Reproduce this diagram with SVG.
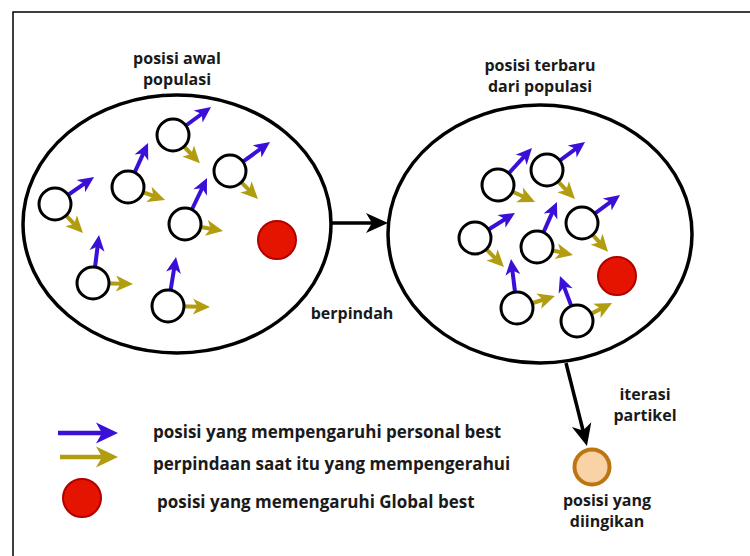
<svg xmlns="http://www.w3.org/2000/svg" width="750" height="556" viewBox="0 0 750 556">
<style>
.t{font-family:"Open Sans","DejaVu Sans",sans-serif;font-weight:700;font-size:16px;fill:#1a1a1a}
.lg{font-size:17px}
.pc{fill:#fff;stroke:#000;stroke-width:3}
.red{fill:#E51400;stroke:#B20000;stroke-width:2}
.ab{stroke:#3A0FD8;stroke-width:4;fill:none;marker-end:url(#mB)}
.ag{stroke:#B29C10;stroke-width:4;fill:none;marker-end:url(#mG)}
.ell{fill:#fff;stroke:#000;stroke-width:3.5}
.conn{stroke:#000;stroke-width:3.5;fill:none;marker-end:url(#mK)}
</style>
<defs>
<marker id="mB" markerUnits="userSpaceOnUse" markerWidth="16" markerHeight="15" refX="6" refY="7.5" orient="auto" overflow="visible"><path d="M0,0 L16,7.5 L0,15 L4.5,7.5 Z" fill="#3A0FD8"/></marker>
<marker id="mG" markerUnits="userSpaceOnUse" markerWidth="17" markerHeight="16" refX="7" refY="8" orient="auto" overflow="visible"><path d="M0,0 L17,8 L0,16 L4.5,8 Z" fill="#B29C10"/></marker>
<marker id="mBL" markerUnits="userSpaceOnUse" markerWidth="22" markerHeight="21" refX="12" refY="10.5" orient="auto" overflow="visible"><path d="M0,0 L22,10.5 L0,21 L6,10.5 Z" fill="#3A0FD8"/></marker>
<marker id="mGL" markerUnits="userSpaceOnUse" markerWidth="22" markerHeight="21" refX="12" refY="10.5" orient="auto" overflow="visible"><path d="M0,0 L22,10.5 L0,21 L6,10.5 Z" fill="#B29C10"/></marker>
<marker id="mK" markerUnits="userSpaceOnUse" markerWidth="22" markerHeight="20" refX="12" refY="10" orient="auto" overflow="visible"><path d="M0,0 L22,10 L0,20 L6,10 Z" fill="#000"/></marker>
</defs>
<rect width="750" height="556" fill="#fff"/>
<path d="M13,556 L13,12 L750,12" fill="none" stroke="#000" stroke-width="1.5"/>

<g id="labels">
<text class="t" x="177" y="64" text-anchor="middle">posisi awal</text>
<text class="t" x="177" y="85" text-anchor="middle">populasi</text>
<text class="t" x="540" y="71" text-anchor="middle">posisi terbaru</text>
<text class="t" x="540" y="92" text-anchor="middle">dari populasi</text>
</g>

<g id="population-initial">
<ellipse class="ell" cx="177" cy="224" rx="154" ry="129"/>
<g id="p1"><path class="ab" d="M173,135 L203,113"/><path class="ag" d="M173,135 L193,156"/><circle class="pc" cx="173" cy="135" r="16"/></g>
<g id="p2"><path class="ab" d="M128,187 L143.9,152.1"/><path class="ag" d="M128,187 L155.6,196.7"/><circle class="pc" cx="128" cy="187" r="16"/></g>
<g id="p3"><path class="ab" d="M230,171 L261.9,147.9"/><path class="ag" d="M230,171 L250.9,191.9"/><circle class="pc" cx="230" cy="171" r="16"/></g>
<g id="p4"><path class="ab" d="M55,204 L85.8,182.7"/><path class="ag" d="M55,204 L76,225.8"/><circle class="pc" cx="55" cy="204" r="16"/></g>
<g id="p5"><path class="ab" d="M185,224 L202.7,187"/><path class="ag" d="M185,224 L213.2,229.2"/><circle class="pc" cx="185" cy="224" r="16"/></g>
<g id="p6"><path class="ab" d="M93,283 L97.8,244.9"/><path class="ag" d="M93,283 L123,283.8"/><circle class="pc" cx="93" cy="283" r="16"/></g>
<g id="p7"><path class="ab" d="M168,306 L174.4,266.9"/><path class="ag" d="M168,306 L200,306.8"/><circle class="pc" cx="168" cy="306" r="16"/></g>
<circle id="gbest1" class="red" cx="277" cy="240" r="19"/>
</g>

<g id="population-new">
<ellipse class="ell" cx="540" cy="234" rx="152" ry="129"/>
<g id="q1"><path class="ab" d="M498,185 L525.2,155.4"/><path class="ag" d="M498,185 L525.9,197.8"/><circle class="pc" cx="498" cy="185" r="16"/></g>
<g id="q2"><path class="ab" d="M547,170 L577,147.9"/><path class="ag" d="M547,170 L568,191.8"/><circle class="pc" cx="547" cy="170" r="16"/></g>
<g id="q3"><path class="ab" d="M475,238 L506.5,218.2"/><path class="ag" d="M475,238 L496.9,259.9"/><circle class="pc" cx="475" cy="238" r="16"/></g>
<g id="q4"><path class="ab" d="M537,247 L552.9,211.1"/><path class="ag" d="M537,247 L563.2,252.8"/><circle class="pc" cx="537" cy="247" r="16"/></g>
<g id="q5"><path class="ab" d="M582,223 L612,200.9"/><path class="ag" d="M582,223 L601.3,244.3"/><circle class="pc" cx="582" cy="223" r="16"/></g>
<g id="q6"><path class="ab" d="M517,308 L512.2,268.9"/><path class="ag" d="M517,308 L545.4,299"/><circle class="pc" cx="517" cy="308" r="16"/></g>
<g id="q7"><path class="ab" d="M577,321 L563.5,285.4"/><path class="ag" d="M577,321 L603.1,307.6"/><circle class="pc" cx="577" cy="321" r="16"/></g>
<circle id="gbest2" class="red" cx="617" cy="276" r="19"/>
</g>

<g id="target">
<circle cx="592" cy="467" r="17.5" fill="#F9D3A6" stroke="#BD7512" stroke-width="4"/>
<text class="t" x="607" y="506" text-anchor="middle">posisi yang</text>
<text class="t" x="607" y="527" text-anchor="middle">diingikan</text>
</g>

<g id="connectors">
<path class="conn" d="M332,223 L378,223"/>
<text class="t" x="352" y="319" text-anchor="middle">berpindah</text>
<path class="conn" d="M566,363 L584.5,436.3"/>
<text class="t" x="645" y="400" text-anchor="middle">iterasi</text>
<text class="t" x="645" y="421" text-anchor="middle">partikel</text>
</g>

<g id="legend">
<path d="M58,433 L108,433" stroke="#3A0FD8" stroke-width="4.5" fill="none" marker-end="url(#mBL)"/>
<path d="M60,457 L108,457" stroke="#B29C10" stroke-width="4.5" fill="none" marker-end="url(#mGL)"/>
<circle class="red" cx="82" cy="498" r="19"/>
<text class="t lg" x="153" y="438">posisi yang mempengaruhi personal best</text>
<text class="t lg" x="153" y="470">perpindaan saat itu yang mempengerahui</text>
<text class="t lg" x="157" y="508">posisi yang memengaruhi Global best</text>
</g>
</svg>
